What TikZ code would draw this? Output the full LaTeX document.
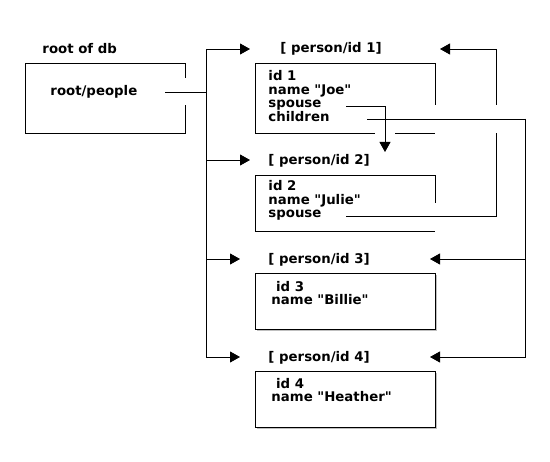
\documentclass[tikz,border=0pt]{standalone}
\usepackage{fontspec}
\setmainfont{DejaVu Sans}[Ligatures=TeXOff]
\usetikzlibrary{arrows.meta}
\usetikzlibrary{shadows}
\tikzset{>={Triangle[length=10pt,width=11pt]}}
\tikzset{txt/.style={anchor=base west, inner sep=0pt, font=\bfseries\fontsize{13.3}{13.5}\selectfont}}
\tikzset{card/.style={fill=white, drop shadow={shadow xshift=2pt, shadow yshift=-2pt, opacity=.5}}}

\begin{document}
\begin{tikzpicture}[x=1pt,y=-1pt,line width=0.9pt]
		\useasboundingbox (0,0) rectangle (550,462);
		% root box, open where the link leaves it
		\node[txt] (rootdb) at (42,54) {root of db};
		\draw (185,78) -- (185,63) -- (25,63) -- (25,133) -- (185,133) -- (185,105);
		\node[txt] (people) at (50,96) {root/people};
		% person/id 1
		\node[txt] (p1) at (280,53) {[ person/id 1]};
		\draw (435,105) -- (435,63) -- (255,63) -- (255,133) -- (375,133);
		\draw (395,133) -- (435,133);
		\node[txt] (id1) at (268,81) {id 1};
		\node[txt] (name1) at (268,94.5) {name "Joe"};
		\node[txt] (sp1) at (268,108) {spouse};
		\node[txt] (ch1) at (268,121.5) {children};
		% person/id 2
		\node[txt] (p2) at (268,165) {[ person/id 2]};
		\draw (435,203) -- (435,175) -- (255,175) -- (255,231) -- (435,231);
		\node[txt] (id2) at (268,191) {id 2};
		\node[txt] (name2) at (268,204.5) {name "Julie"};
		\node[txt] (sp2) at (268,218) {spouse};
		% person/id 3 and 4
		\node[txt] (p3) at (268,264) {[ person/id 3]};
		\draw[card] (255,273) rectangle (435,329);
		\node[txt] (id3) at (271,292) {\ id 3};
		\node[txt] (name3) at (271,305) {name "Billie"};
		\node[txt] (p4) at (268,362) {[ person/id 4]};
		\draw[card] (255,371) rectangle (435,427);
		\node[txt] (id4) at (271,389) {\ id 4};
		\node[txt] (name4) at (271,402) {name "Heather"};
		% ends of the links
		\coordinate (ppout) at (165,92);
		\coordinate (trunk) at (206,92);
		\coordinate (in1) at (250,49);
		\coordinate (in2) at (250,160);
		\coordinate (in3) at (240,259);
		\coordinate (in4) at (240,357);
		\coordinate (sp1out) at (346,106);
		\coordinate (sp1in) at (385,152);
		\coordinate (ch1out) at (367,119);
		\coordinate (kids) at (525,119);
		\coordinate (back3) at (430,259);
		\coordinate (back4) at (430,357);
		\coordinate (sp2out) at (346,216);
		\coordinate (wife) at (496,216);
		\coordinate (back1) at (440,49);
		% root/people points at every person
		\draw (ppout) -- (trunk);
		\draw[->] (trunk) |- (in1);
		\draw[->] (trunk) |- (in2);
		\draw[->] (trunk) |- (in3);
		\draw[->] (trunk) |- (in4);
		% spouse of id 1
		\draw[->] (sp1out) -| (sp1in);
		% children of id 1
		\draw (ch1out) -- (kids);
		\draw[->] (kids) |- (back3);
		\draw[->] (kids) |- (back4);
		% spouse of id 2, with a gap where children crosses
		\draw (sp2out) -- (wife) -- (496,133);
		\draw[->] (496,105) |- (back1);
\end{tikzpicture}
\end{document}
